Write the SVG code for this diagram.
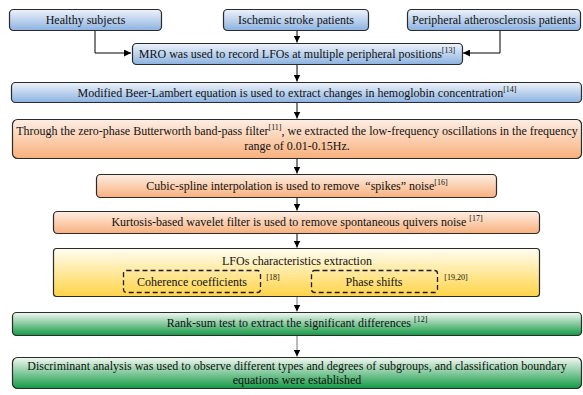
<svg xmlns="http://www.w3.org/2000/svg" width="583" height="395" viewBox="0 0 583 395">
<defs>
<linearGradient id="gBlue" x1="0" y1="0" x2="0" y2="1"><stop offset="0" stop-color="#eef3fa"/><stop offset="1" stop-color="#8cb2e0"/></linearGradient>
<linearGradient id="gOrange" x1="0" y1="0" x2="0" y2="1"><stop offset="0" stop-color="#fdeee4"/><stop offset="1" stop-color="#f9b07c"/></linearGradient>
<linearGradient id="gYellow" x1="0" y1="0" x2="0" y2="1"><stop offset="0" stop-color="#fffdf2"/><stop offset="1" stop-color="#ffd447"/></linearGradient>
<linearGradient id="gGreen" x1="0" y1="0" x2="0" y2="1"><stop offset="0" stop-color="#f2f8f2"/><stop offset="1" stop-color="#139a45"/></linearGradient>
<marker id="arr" viewBox="0 0 10 10" refX="10" refY="5" markerWidth="7" markerHeight="7" markerUnits="userSpaceOnUse" orient="auto"><path d="M0,0 L10,5 L0,10 Z" fill="#000"/></marker>
</defs>
<style>
.box{stroke:#2b2b2b;stroke-width:1.2}
.b{fill:url(#gBlue)}.o{fill:url(#gOrange)}.y{fill:url(#gYellow)}.g{fill:url(#gGreen)}
.dash{fill:none;stroke:#1a1a1a;stroke-width:1.3;stroke-dasharray:5,3}
text{font-family:'Liberation Serif','Times New Roman',serif;font-size:12px;fill:#111;text-anchor:middle}
text.sup, tspan.sup{font-size:8px}
.c{fill:none;stroke:#000;stroke-width:1}
.cg{fill:none;stroke:#777;stroke-width:1}
</style>
<g id="connectors">
<path class="c" d="M95,30 V53 H131" marker-end="url(#arr)"/>
<path class="c" d="M500,30 V53 H463" marker-end="url(#arr)"/>
<path class="c" d="M297,30 V42.5" marker-end="url(#arr)"/>
<path class="c" d="M297,64 V81.5" marker-end="url(#arr)"/>
<path class="c" d="M297,102 V118.5" marker-end="url(#arr)"/>
<path class="c" d="M297,158 V173.5" marker-end="url(#arr)"/>
<path class="c" d="M297,197 V210.5" marker-end="url(#arr)"/>
<path class="c" d="M297,233 V247.5" marker-end="url(#arr)"/>
<path class="cg" d="M297,296 V311.5" marker-end="url(#arr)"/>
<path class="cg" d="M297,335 V356.5" marker-end="url(#arr)"/>
</g>
<g id="healthy"><rect class="box b" x="9.5" y="9.5" width="152" height="21" rx="4"/><text x="85.5" y="24">Healthy subjects</text></g>
<g id="ischemic"><rect class="box b" x="223.5" y="9.5" width="145" height="21" rx="4"/><text x="296" y="24">Ischemic stroke patients</text></g>
<g id="peripheral"><rect class="box b" x="407.5" y="9.5" width="173" height="21" rx="4"/><text x="494" y="24">Peripheral atherosclerosis patients</text></g>
<g id="mro"><rect class="box b" x="132.5" y="43.5" width="330" height="21" rx="4"/><text x="297" y="58">MRO was used to record LFOs at multiple peripheral positions<tspan class="sup" dy="-5">[13]</tspan></text></g>
<g id="beer"><rect class="box b" x="11.5" y="82.5" width="570" height="20" rx="4"/><text x="297" y="97">Modified Beer-Lambert equation is used to extract changes in hemoglobin concentration<tspan class="sup" dy="-5">[14]</tspan></text></g>
<g id="butterworth"><rect class="box o" x="12.5" y="119.5" width="569" height="39" rx="5"/><text x="297" y="135">Through the zero-phase Butterworth band-pass filter<tspan class="sup" dy="-5">[11]</tspan><tspan dy="5">, we extracted the low-frequency oscillations in the frequency</tspan></text><text x="297" y="150">range of 0.01-0.15Hz.</text></g>
<g id="cubic"><rect class="box o" x="96.5" y="174.5" width="400" height="23" rx="4"/><text x="297" y="190">Cubic-spline interpolation is used to remove <tspan dx="3">“spikes”</tspan><tspan dx="3">noise</tspan><tspan class="sup" dy="-5">[16]</tspan></text></g>
<g id="kurtosis"><rect class="box o" x="53.5" y="211.5" width="486" height="22" rx="4"/><text x="297" y="226">Kurtosis-based wavelet filter is used to remove spontaneous quivers noise <tspan class="sup" dy="-5">[17]</tspan></text></g>
<g id="lfos"><rect class="box y" x="53.5" y="248.5" width="486" height="48" rx="3"/><text x="297" y="265">LFOs characteristics extraction</text></g>
<g id="coherence"><rect class="dash" x="123.5" y="270.5" width="137" height="22" rx="3"/><text x="192" y="286">Coherence coefficients</text><text class="sup" x="273" y="280">[18]</text></g>
<g id="phase"><rect class="dash" x="311.5" y="270.5" width="126" height="22" rx="3"/><text x="374" y="286">Phase shifts</text><text class="sup" x="456" y="280">[19,20]</text></g>
<g id="ranksum"><rect class="box g" x="12.5" y="312.5" width="569" height="23" rx="4"/><text x="297" y="327">Rank-sum test to extract the significant differences <tspan class="sup" dy="-5">[12]</tspan></text></g>
<g id="discriminant"><rect class="box g" x="12.5" y="357.5" width="569" height="31" rx="5"/><text x="297" y="370">Discriminant analysis was used to observe different types and degrees of subgroups, and classification boundary</text><text x="297" y="384">equations were established</text></g>
</svg>
